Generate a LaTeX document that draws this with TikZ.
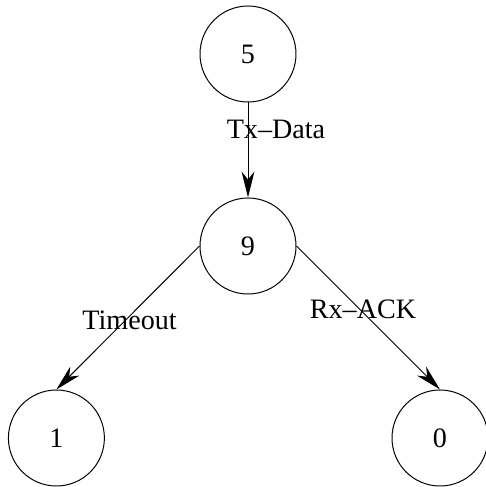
\documentclass[tikz,border=0pt]{standalone}
\usepackage{fontspec}
\setmainfont{Liberation Serif}
\usetikzlibrary{arrows.meta}

\begin{document}
\begin{tikzpicture}[
    font=\fontsize{20}{24}\selectfont,
    state/.style={draw,circle,line width=0.7pt,minimum size=2.4cm,inner sep=0pt},
    edge/.style={line width=0.7pt,-{Stealth[length=0.65cm,width=0.32cm,inset=0.2cm]}},
    lbl/.style={anchor=base,inner sep=0pt}
  ]
  \useasboundingbox (0,0) rectangle (12.15,-12.175);
  % states
  \node[state] (s5) at (6.2,-1.35) {5};
  \node[state] (s9) at (6.2,-6.15) {9};
  \node[state] (s1) at (1.41,-10.95) {1};
  \node[state] (s0) at (11.0,-10.95) {0};
  % transitions
  \draw[edge] (s5.south) -- (s9.north);
  \draw[edge] (s9.west) -- (s1.north);
  \draw[edge] (s9.east) -- (s0.north);
  \node[lbl] (txdata) at (6.9,-3.45) {Tx--Data};
  \node[lbl] (timeout) at (3.24,-8.225) {Timeout};
  \node[lbl] (rxack) at (9.075,-7.95) {Rx--ACK};
\end{tikzpicture}
\end{document}
